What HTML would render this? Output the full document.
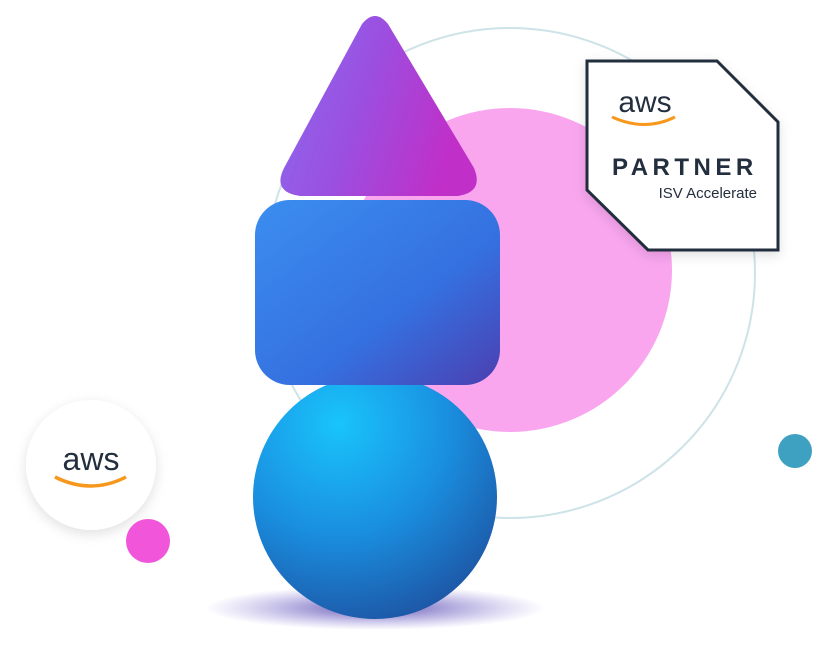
<!DOCTYPE html>
<html><head><style>
body{margin:0;width:813px;height:653px;background:#fff;overflow:hidden;position:relative;font-family:"Liberation Sans",sans-serif}
</style></head><body>
<svg width="813" height="653" style="position:absolute;left:0;top:0">
<defs>
<linearGradient id="tri" x1="0" y1="0" x2="1" y2="0.3"><stop offset="0" stop-color="#8a6cf0"/><stop offset="0.5" stop-color="#9b4fe0"/><stop offset="1" stop-color="#c02fc8"/></linearGradient>
<linearGradient id="cube" x1="0" y1="0" x2="1" y2="1"><stop offset="0" stop-color="#3b8ef0"/><stop offset="0.6" stop-color="#3570e0"/><stop offset="1" stop-color="#4b3fb0"/></linearGradient>
<radialGradient id="sph" cx="0.35" cy="0.2" r="0.9"><stop offset="0" stop-color="#19c4fb"/><stop offset="0.5" stop-color="#1a8fe0"/><stop offset="1" stop-color="#1e4f9e"/></radialGradient>
<radialGradient id="sh" cx="0.5" cy="0.5" r="0.5"><stop offset="0" stop-color="#3a2a9a" stop-opacity="0.8"/><stop offset="1" stop-color="#6a5ad0" stop-opacity="0"/></radialGradient>
<filter id="ds" x="-30%" y="-30%" width="160%" height="160%"><feDropShadow dx="0" dy="4" stdDeviation="6" flood-color="#000" flood-opacity="0.12"/></filter>
</defs>
<circle cx="510" cy="273" r="245" fill="none" stroke="#cde3e8" stroke-width="2"/>
<circle cx="510" cy="270" r="162" fill="#f9a6ef"/>
<ellipse cx="375" cy="608" rx="170" ry="22" fill="url(#sh)"/>
<circle cx="375" cy="497" r="122" fill="url(#sph)"/>
<rect x="255" y="200" width="245" height="185" rx="35" fill="url(#cube)"/>
<path d="M362 24 Q375 8 388 24 L474 168 Q484 192 458 196 L300 196 Q272 192 284 168 Z" fill="url(#tri)"/>
<circle cx="91" cy="465" r="65" fill="#fff" filter="url(#ds)"/>
<circle cx="148" cy="541" r="22" fill="#f155d9"/>
<circle cx="795" cy="451" r="17" fill="#3fa1c1"/>
<polygon points="587,61 717,61 778,122 778,250 648,250 587,190" fill="#fff" stroke="#232f3e" stroke-width="3" filter="url(#ds)"/>
<text x="645" y="112" font-family="Liberation Sans,sans-serif" font-size="30" fill="#232f3e" text-anchor="middle">aws</text>
<path d="M612 117 Q645 132 675 117" fill="none" stroke="#f7981d" stroke-width="3"/>
<text x="612" y="175" font-family="Liberation Sans,sans-serif" font-size="24" font-weight="bold" letter-spacing="4.5" fill="#232f3e">PARTNER</text>
<text x="757" y="198" font-family="Liberation Sans,sans-serif" font-size="15" fill="#232f3e" text-anchor="end">ISV Accelerate</text>
<text x="91" y="470" font-family="Liberation Sans,sans-serif" font-size="32" fill="#232f3e" text-anchor="middle">aws</text>
<path d="M55 477 Q91 495 126 477" fill="none" stroke="#f7981d" stroke-width="3.5"/>
</svg>
</body></html>
